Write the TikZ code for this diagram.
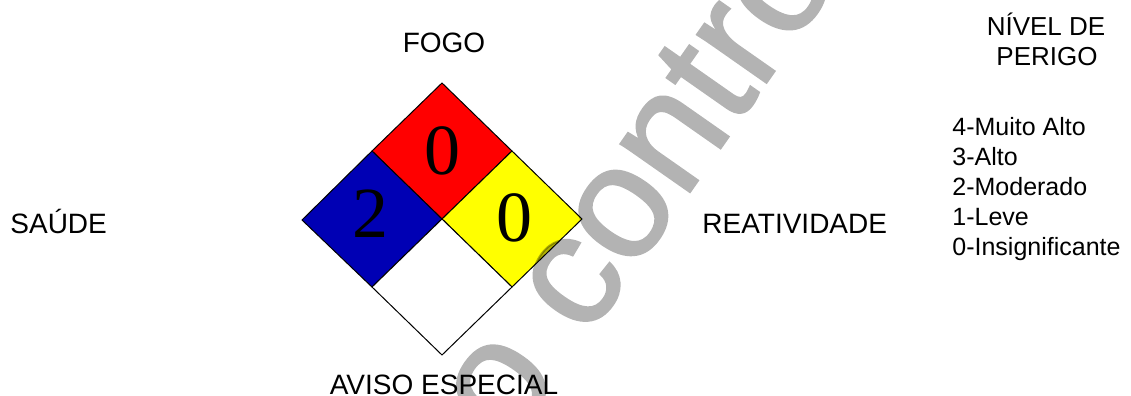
\documentclass[tikz,border=0pt]{standalone}
\usepackage{fontspec}
\setmainfont{Liberation Sans}
\newfontfamily\numfont{Liberation Serif}
\newfontfamily\markfont[FakeBold=1.3]{Liberation Sans}
\usepackage{xcolor}
\usepackage{tikz}
\definecolor{nfpared}{RGB}{255,0,0}
\definecolor{nfpablue}{RGB}{0,0,180}
\definecolor{nfpayellow}{RGB}{255,255,0}
\definecolor{markgray}{RGB}{179,179,179}

\begin{document}
\begin{tikzpicture}[x=0.5pt, y=-0.5pt,
  field/.style={font=\fontsize{14}{17}\selectfont, inner sep=0pt},
  header/.style={font=\fontsize{13}{16}\selectfont, inner sep=0pt, anchor=base},
  level/.style={font=\fontsize{12.5}{15}\selectfont, inner sep=0pt, anchor=base west},
  rating/.style={font=\numfont\fontsize{36}{40}\selectfont, inner sep=0pt},
  square/.style={draw=black, line width=0.5pt, line join=miter},
  watermark/.style={font=\markfont\fontsize{80}{90}\selectfont, text=markgray, inner sep=0pt,
    rotate=55, anchor=base west}]

\useasboundingbox (0,0) rectangle (1131,396);

% watermark behind the sign
\begin{scope}
  \clip (0,0) rectangle (1131,396);
  \node[watermark] (marca) at (510,449) {o contro};
\end{scope}

% diamond corners
\coordinate (T) at (442,83);   \coordinate (B) at (442,355);
\coordinate (L) at (302,220);  \coordinate (R) at (582,219);
\coordinate (C) at (442,219);
\coordinate (TL) at (372,151); \coordinate (TR) at (512,151);
\coordinate (BL) at (372,287); \coordinate (BR) at (512,287);

\filldraw[square, fill=nfpared]    (T) -- (TR) -- (C) -- (TL) -- cycle;
\filldraw[square, fill=nfpablue]   (TL) -- (C) -- (BL) -- (L) -- cycle;
\filldraw[square, fill=nfpayellow] (TR) -- (R) -- (BR) -- (C) -- cycle;
\filldraw[square, fill=white]      (C) -- (BR) -- (B) -- (BL) -- cycle;

\node[rating] (fire)   at (442,151) {0};
\node[rating] (health) at (370,214) {2};
\node[rating] (react)  at (514,218) {0};

% watermark seen through the yellow field
\begin{scope}[blend mode=multiply]
  \clip (TR) -- (R) -- (BR) -- (C) -- cycle;
  \node[watermark] (marcaY) at (510,449) {o contro};
\end{scope}

% section names
\node[field, anchor=base]      (fogo)   at (444,52)  {FOGO};
\node[field, anchor=base west] (saude)  at (10,233)  {SAÚDE};
\node[field, anchor=base west] (reativ) at (702,233) {REATIVIDADE};
\node[field, anchor=base]      (aviso)  at (444,394) {AVISO ESPECIAL};

% scale
\node[header] (nivel)  at (1046,35) {NÍVEL DE};
\node[header] (perigo) at (1047,65) {PERIGO};
\node[level] (lvl4) at (952,135) {4-Muito Alto};
\node[level] (lvl3) at (952,165) {3-Alto};
\node[level] (lvl2) at (952,195) {2-Moderado};
\node[level] (lvl1) at (952,225) {1-Leve};
\node[level] (lvl0) at (952,255) {0-Insignificante};

\end{tikzpicture}
\end{document}
